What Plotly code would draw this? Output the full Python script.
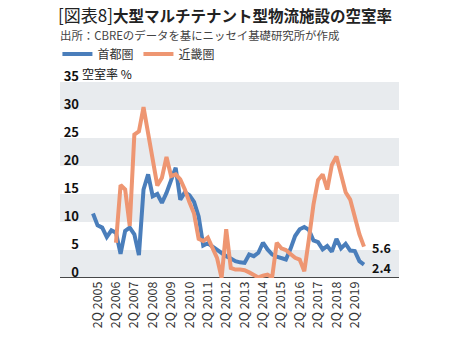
import plotly.graph_objects as go

# ---- data ----
quarters = [f"{q}Q {y}" for y in range(2005, 2020) for q in range(1, 5)]
tick_labels = [f"2Q {y}" for y in range(2005, 2020)]

shutoken = [11.5, 9.4, 9.0, 7.3, 8.5, 8.1, 4.3, 8.4, 9.0, 7.8,
            4.1, 15.8, 18.5, 14.6, 15.0, 13.4, 15.2, 17.6, 19.7, 14.0,
            15.3, 14.8, 13.6, 11.0, 5.8, 6.2, 5.6, 5.2, 4.5, 3.9,
            3.5, 3.0, 2.8, 2.7, 4.2, 3.9, 4.5, 6.3, 5.1, 4.2,
            3.8, 3.6, 3.3, 5.2, 7.5, 8.7, 9.1, 8.6, 6.7, 6.4,
            5.1, 5.7, 4.7, 7.0, 5.3, 6.1, 4.9, 4.8, 3.0, 2.4]

kinki = [None, None, None, None, None,
         6.3, 16.6, 15.8, 9.3, 25.6,
         26.2, 30.5, 25.8, 21.2, 16.5, 17.9, 21.6, 18.2, 18.5, 17.6,
         15.8, 13.5, 11.5, 7.0, 6.6, 7.2, 5.4, 3.6, 0.0, 8.7,
         1.8, 1.5, 1.5, 1.4, 1.0, 0.6, 0.1, 0.4, 0.6, 0.1,
         6.3, 5.3, 5.0, 4.3, 3.6, 3.3, 1.2, 6.9, 13.1, 17.5,
         18.5, 15.8, 20.2, 21.7, 18.5, 15.3, 14.0, 10.8, 7.8, 5.6]

series_names = ["首都圏", "近畿圏"]
end_labels = ["2.4", "5.6"]
y_ticks = [0, 5, 10, 15, 20, 25, 30, 35]

BLUE = "#4a7ebb"
ORANGE = "#ee9672"
BAND = "#e8ebee"
FONT = "Noto Sans CJK JP"
PLOT_W = 319
PLOT_H = 196.5

fig = go.Figure()
fig.add_trace(go.Scatter(x=quarters, y=shutoken, name=series_names[0], mode="lines",
                         line=dict(color=BLUE, width=4), cliponaxis=False))
fig.add_trace(go.Scatter(x=quarters, y=kinki, name=series_names[1], mode="lines",
                         line=dict(color=ORANGE, width=4), cliponaxis=False))

# bands
x_left = -20 / PLOT_W
for lo in (0, 10, 20, 30):
    fig.add_shape(type="rect", xref="paper", yref="y", x0=x_left, x1=1, y0=lo, y1=lo + 5,
                  fillcolor=BAND, line_width=0, layer="below")
fig.add_shape(type="line", xref="paper", yref="y", x0=x_left, x1=1, y0=0, y1=0,
              line=dict(color="#111", width=1.5), layer="below")

# end labels
fig.add_annotation(x=quarters[-1], y=shutoken[-1], text=f"<b>{end_labels[0]}</b>", showarrow=False,
                   xanchor="left", yanchor="middle", xshift=6, yshift=-3,
                   font=dict(family=FONT, size=12.5, color="#111"))
fig.add_annotation(x=quarters[-1], y=kinki[-1], text=f"<b>{end_labels[1]}</b>", showarrow=False,
                   xanchor="left", yanchor="middle", xshift=6, yshift=-1,
                   font=dict(family=FONT, size=12.5, color="#111"))

# unit label
fig.add_annotation(xref="paper", yref="paper", x=0, y=1 + 9 / PLOT_H, text="空室率 %",
                   showarrow=False, xanchor="left", yanchor="middle",
                   font=dict(family=FONT, size=12, color="#111"))

# subtitle
fig.add_annotation(xref="paper", yref="paper", x=x_left, y=1 + (82 - 35) / PLOT_H,
                   text="出所：CBREのデータを基にニッセイ基礎研究所が作成",
                   showarrow=False, xanchor="left", yanchor="middle", xshift=-2,
                   font=dict(family=FONT, size=11.4, color="#444"))

fig.update_layout(
    width=465, height=347,
    margin=dict(l=80, r=66, t=82, b=68.5),
    paper_bgcolor="white", plot_bgcolor="rgba(0,0,0,0)",
    font=dict(family=FONT, color="#333"),
    title=dict(text="<span style='font-size:17px'>[図表8]</span><b>大型マルチテナント型物流施設の空室率</b>",
               xref="container", yref="container", x=58 / 465, xanchor="left",
               y=1 - 17 / 347, yanchor="middle",
               font=dict(family=FONT, size=15.5, color="#222")),
    showlegend=True,
    legend=dict(orientation="h", xref="paper", yref="paper",
                x=x_left - 0.03 + 7 / PLOT_W, xanchor="left",
                y=1 + (82 - 54) / PLOT_H, yanchor="middle",
                font=dict(family=FONT, size=12, color="#333"),
                bgcolor="rgba(0,0,0,0)"),
    xaxis=dict(type="category", range=[-2.83, 66.62], tickmode="array",
               tickvals=tick_labels, ticktext=tick_labels, tickangle=-90,
               showgrid=False, showline=False, zeroline=False, ticks="",
               tickfont=dict(family=FONT, size=12.5, color="#333")),
    yaxis=dict(range=[0, 35], tickmode="array", tickvals=y_ticks,
               ticktext=[str(v) for v in y_ticks], ticklabelposition="outside top",
               ticklabelshift=4,
               showgrid=False, zeroline=False, showline=False, ticks="",
               tickfont=dict(family=FONT, size=13, color="#111", weight="bold")),
)

fig.write_html("out.html")
